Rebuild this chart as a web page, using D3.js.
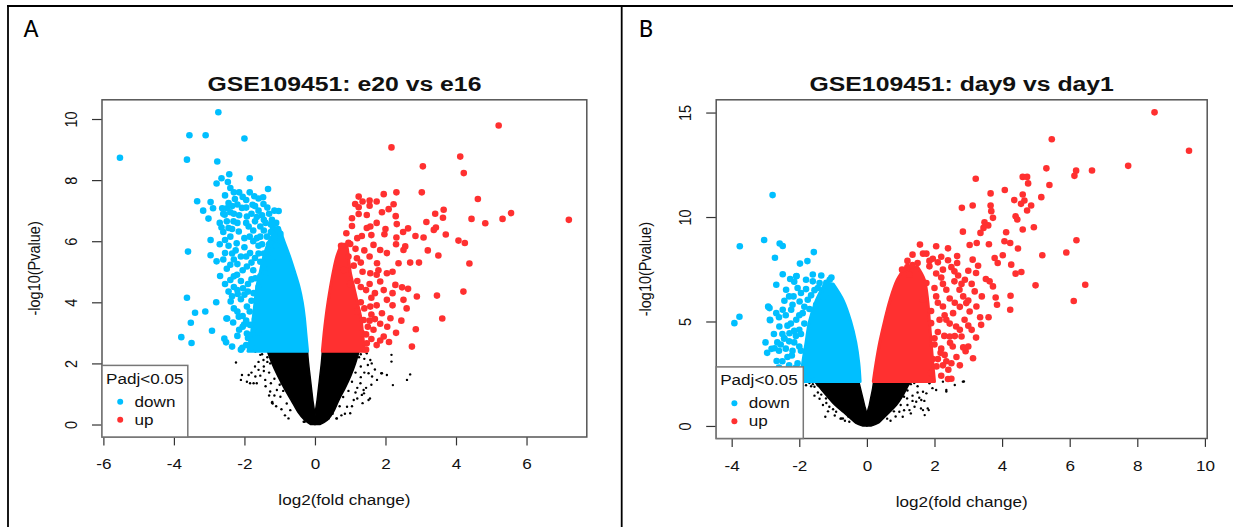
<!DOCTYPE html>
<html>
<head>
<meta charset="utf-8">
<script src="https://cdn.jsdelivr.net/npm/d3@7"></script>
<style>
body { margin: 0; background: #fff; }
svg { display: block; }
</style>
</head>
<body>
<svg id="fig"></svg>
<script>
const W = 1233, H = 527;
const SX = 1.18;   // the R plots were pasted stretched sideways
const FONT = "'Liberation Sans', Arial, Helvetica, sans-serif";
const BLUE = "#00BFFF", RED = "#FF3030";

// ---------- panel A : e20 vs e16 ----------
const aTicksX = [-6, -4, -2, 0, 2, 4, 6];
const aTicksY = [0, 2, 4, 6, 8, 10];

// down-regulated genes [log2FC, -log10 p]
const aDown = [
  [-5.53,8.73],[-2.74,10.22],[-3.56,9.47],[-3.10,9.47],[-2.00,9.36],[-3.63,8.67],[-2.77,8.61],
  [-2.43,8.19],[-2.65,8.06],[-2.79,7.89],[-1.85,8.06],[-2.47,7.94],[-2.40,7.74],[-1.33,7.71],
  [-1.72,7.47],[-3.34,7.31],[-2.96,7.28],[-3.17,7.00],[-2.27,7.38],[-3.02,6.74],[-1.03,6.99],
  [-3.60,5.66],[-2.96,6.04],[-2.96,5.54],[-2.79,5.34],[-2.69,4.86],[-3.63,4.15],[-2.80,4.00],
  [-2.39,4.03],[-2.19,4.27],[-3.40,3.66],[-3.11,3.70],[-3.52,3.33],[-2.51,3.47],[-2.32,3.34],
  [-2.92,3.07],[-3.79,2.86],[-3.50,2.67],[-2.57,2.81],[-2.52,2.69],[-2.06,2.51],[-2.01,3.27],
  [-1.90,2.83],[-1.81,2.53],[-1.47,7.44],[-2.89,7.08],[-2.63,7.08],[-2.50,7.08],[-2.56,6.87],
  [-2.07,7.09],[-1.77,7.19],[-1.46,7.22],[-2.31,6.65],[-1.93,6.81],[-1.65,6.79],[-1.22,6.70],
  [-2.45,6.43],[-2.16,6.32],[-1.88,6.48],[-1.55,6.48],[-1.19,6.43],[-0.98,6.24],[-2.55,6.04],
  [-2.22,5.93],[-1.65,6.10],[-1.36,6.15],[-2.55,5.61],[-2.40,5.23],[-2.10,5.50],[-1.84,5.61],
  [-1.55,5.33],[-1.27,5.72],[-1.04,5.39],[-2.40,4.73],[-2.21,4.90],[-1.93,5.17],[-1.69,4.79],
  [-1.41,4.95],[-2.45,4.35],[-2.04,4.46],[-1.74,4.30],[-1.93,3.86],[-1.65,4.08],[-2.49,3.47],
  [-2.16,3.53],[-1.84,3.26],[-1.93,2.98],[-2.00,6.10],[-1.75,6.00],[-1.50,5.90],[-2.30,6.90],
  [-1.95,7.35],[-2.15,7.60],[-2.35,7.15],[-1.60,7.00],[-1.30,6.90],[-1.10,6.60],[-1.40,6.60],
  [-2.70,6.60],[-2.60,6.30],[-2.35,5.60],[-2.00,5.80],[-1.70,5.45],[-1.45,5.60],[-2.20,5.25],
  [-1.90,4.60],[-1.60,4.50],[-2.30,4.50],[-2.10,4.10],[-1.85,3.70],[-2.30,3.80],[-1.70,3.45],
  [-2.05,3.20],[-1.60,3.00],[-1.80,2.70],[-2.20,2.90],
  [-2.55,7.50],[-2.30,7.60],[-2.05,7.45],[-1.85,7.60],[-1.60,7.40],[-2.45,7.25],[-2.20,7.20],
  [-1.95,7.10],[-1.70,7.15],[-1.35,7.10],[-1.15,7.00],[-2.60,6.90],[-2.40,6.95],[-2.15,6.85],
  [-1.80,6.90],[-1.50,6.85],[-2.50,6.65],[-2.20,6.60],[-1.95,6.60],[-1.70,6.65],[-1.45,6.70],
  [-1.25,6.55],[-2.65,6.45],[-2.35,6.40],[-1.75,6.35],[-1.45,6.35],[-1.25,6.30],[-1.05,6.40],
  [-2.40,6.15],[-1.85,6.15],[-1.55,6.15],[-1.15,6.10],[-2.70,5.90],[-2.45,5.85],[-1.60,5.85],
  [-1.30,5.90],[-1.10,5.85],[-2.25,5.70],[-1.95,5.50],[-1.60,5.60],[-1.35,5.45],[-2.60,5.40],
  [-2.30,5.40],[-1.80,5.30],[-1.45,5.20],[-2.50,5.10],[-2.05,5.05],[-1.75,5.05],[-1.55,4.85],
  [-2.30,4.85],[-2.10,4.70],[-1.80,4.75],[-2.55,4.60],[-2.20,4.40],[-1.90,4.35],[-2.35,4.20],
  [-2.00,4.25],[-1.80,4.05],[-2.20,3.70],[-2.05,3.55],[-1.95,3.40],[-2.15,3.10],[-1.95,2.60],
  [-2.10,2.45],[-2.35,2.55]
];
const aUp = [
  [5.21,9.79],[2.17,9.07],[4.12,8.77],[3.06,8.45],[4.22,8.23],[1.24,7.46],[1.55,7.33],[1.95,7.54],
  [2.31,7.60],[3.03,7.60],[4.62,7.38],[1.14,7.22],[1.24,7.11],[1.55,7.16],[2.09,7.05],[2.23,7.21],
  [1.24,6.89],[1.47,6.86],[2.29,6.82],[3.41,6.90],[3.65,7.03],[3.63,6.77],[4.44,6.73],[4.83,6.59],
  [5.32,6.73],[5.56,6.92],[7.20,6.70],[1.05,6.50],[1.47,6.43],[1.57,6.48],[2.32,6.56],[2.64,6.42],
  [3.16,6.63],[3.37,6.37],[3.43,6.45],[0.89,6.26],[1.33,6.17],[1.97,6.23],[2.31,6.12],[2.85,6.17],
  [3.08,6.12],[3.71,6.22],[4.07,6.02],[4.25,5.94],[0.74,5.85],[1.00,5.91],[1.66,5.88],[1.85,5.71],
  [2.04,5.61],[2.56,5.83],[2.51,5.71],[3.50,5.53],[4.38,5.27],[1.19,5.44],[1.76,5.28],[2.37,5.28],
  [0.81,5.06],[1.57,4.95],[2.04,4.95],[1.85,4.68],[2.28,4.57],[2.47,4.49],[2.64,4.44],[2.89,4.19],
  [3.46,4.22],[4.21,4.35],[2.51,4.08],[2.04,4.08],[1.57,3.86],[1.90,3.64],[2.14,3.48],[3.61,3.47],
  [1.38,3.42],[1.66,3.10],[2.86,3.12],[1.95,2.88],[2.75,2.55],[1.47,2.66],[1.33,2.99],[1.10,5.20],
  [1.35,5.00],[1.40,5.70],[0.95,5.50],[1.20,4.70],[1.45,4.40],[1.70,4.30],[1.30,4.00],[1.60,3.60],
  [1.85,3.30],[1.50,3.20],[1.75,2.60],[2.10,2.70],[2.30,3.00],[1.20,3.70],[2.20,3.90],[1.75,4.90],
  [1.00,4.60],
  [1.45,2.45],[1.60,2.80],[1.55,3.40],[1.40,3.80],[1.75,3.90],[1.60,4.15],[1.30,4.50],[1.55,4.60],
  [1.30,5.30],[1.15,5.75],[1.55,5.50],[1.80,5.05],[1.95,4.40],[1.70,3.45],[1.45,2.95],[2.05,3.20],
  [1.85,2.75],[2.45,3.40],[2.60,3.80],[2.20,4.30],[1.20,6.10],[1.60,6.20],[1.75,6.60],[1.90,6.95],
  [2.00,6.40],[0.95,5.95],[1.05,6.75],[1.35,7.30],[1.75,7.30],[2.50,6.30],[2.70,5.30],[2.30,5.90],
  [2.20,5.00],[3.20,5.70],[2.95,5.30]
];
const aNs = [
  [-2.24,2.03],[-2.07,1.62],[-1.88,1.62],[-1.69,1.57],[-1.93,1.40],[-1.74,1.35],[-1.60,1.79],
  [-1.46,2.11],[-1.55,2.28],[-1.27,2.00],[-1.22,0.71],[-1.08,1.13],[-0.94,1.35],[-0.80,0.69],
  [-0.70,0.47],[-1.69,2.39],[-1.65,1.35],[-1.41,1.46],[-1.27,1.08],[-1.20,0.69],[-0.98,0.91],
  [-0.32,0.09],[0.39,0.20],[0.62,0.20],[0.91,0.58],[1.10,0.80],[1.33,0.97],[1.52,0.80],[1.29,1.35],
  [1.47,2.33],[1.57,2.11],[1.52,1.68],[1.76,1.46],[1.88,1.68],[2.04,1.62],[2.17,2.28],[2.17,2.06],
  [2.21,1.29],[2.61,1.46],[2.70,1.64],[1.61,2.00],[1.38,1.13],[1.00,0.37],[-2.10,1.46],[-1.84,1.35],
  [-1.21,0.74],[1.56,0.85],[1.90,1.68],[1.62,1.57],[1.39,1.02],[0.61,0.20],[-0.29,0.09],
  [-1.35,2.20],[-1.45,1.90],[-1.30,1.70],[-1.15,1.50],[-1.20,2.30],[-1.05,1.80],[-0.90,1.10],
  [-0.85,1.55],[-0.60,0.80],[-0.50,0.50],[1.25,2.20],[1.30,1.90],[1.15,1.70],[1.05,1.40],
  [0.95,1.10],[0.80,0.90],[1.20,1.20],[1.40,1.70],[0.70,0.60],[0.50,0.35],[1.30,2.30],[1.10,2.00],
  [-1.50,2.30],[-1.60,2.05],[-1.55,1.60],[-1.40,1.25],[-1.30,0.95],[-1.10,0.60],[-0.95,0.50],
  [-0.85,0.30],[-1.70,1.90],[-1.80,1.70],[-1.45,1.75],[-1.35,2.05],[-1.25,1.35],[-1.15,0.95],
  [-0.75,0.20],[-1.00,1.30],[1.40,2.15],[1.50,1.95],[1.30,1.55],[1.20,0.85],[1.05,0.60],
  [0.85,0.35],[1.60,1.30],[1.45,1.20],[1.70,1.80],[1.35,0.70],[1.15,1.05],[0.75,0.30]
];
// outlines of the solid blobs where the points overlap completely
const aBlueY = [2.4, 3.0, 3.5, 4.0, 4.5, 5.0, 5.5, 6.0, 6.4];
const aBlueL = [-1.90, -1.80, -1.75, -1.70, -1.65, -1.55, -1.45, -1.30, -1.10];
const aBlueR = [-0.21, -0.26, -0.30, -0.36, -0.45, -0.58, -0.72, -0.88, -1.00];
const aRedY = [2.4, 3.0, 3.5, 4.0, 4.5, 5.0, 5.5, 5.9];
const aRedL = [0.21, 0.26, 0.31, 0.37, 0.44, 0.52, 0.62, 0.75];
const aRedR = [1.40, 1.35, 1.30, 1.20, 1.10, 1.00, 0.95, 0.90];
const aGreyY = [0.0, 0.15, 0.4, 0.8, 1.2, 1.6, 2.0, 2.4];
const aGreyOutL = [-0.12, -0.30, -0.48, -0.68, -0.88, -1.06, -1.22, -1.35];
const aGreyInL = [0, 0, -0.01, -0.06, -0.10, -0.14, -0.18, -0.21];
const aGreyInR = [0, 0, 0.01, 0.06, 0.10, 0.14, 0.18, 0.21];
const aGreyOutR = [0.14, 0.36, 0.52, 0.68, 0.86, 1.02, 1.15, 1.25];

// ---------- panel B : day9 vs day1 ----------
const bTicksX = [-4, -2, 0, 2, 4, 6, 8, 10];
const bTicksY = [0, 5, 10, 15];

const bDown = [
  [-2.79,11.05],[-3.76,8.60],[-3.04,8.90],[-2.58,8.73],[-2.49,8.61],[-1.57,8.32],[-2.72,8.05],
  [-1.98,7.77],[-1.76,7.89],[-2.08,7.18],[-2.49,7.26],[-2.68,6.76],[-1.05,7.10],[-3.92,4.92],
  [-3.77,5.23],[-2.92,5.71],[-2.86,5.06],[-2.67,3.11],[-2.82,3.69],[-2.45,4.18],[-2.30,2.90],
  [-2.22,3.37],[-1.65,2.42],[-2.27,7.03],[-2.09,7.16],[-1.80,7.00],[-2.39,6.52],[-2.17,6.20],
  [-1.95,6.36],[-1.60,6.92],[-1.40,6.84],[-1.26,6.44],[-2.88,5.64],[-2.68,5.40],[-2.49,5.56],
  [-2.24,5.56],[-1.99,5.96],[-1.75,6.04],[-2.44,5.99],[-2.87,5.08],[-2.59,4.76],[-2.29,4.44],
  [-2.09,5.08],[-1.90,5.40],[-2.44,4.20],[-2.73,3.72],[-2.00,4.60],[-1.85,4.90],[-2.15,4.00],
  [-1.95,3.60],[-2.35,3.30],[-2.10,2.80],[-1.90,2.50],[-2.50,2.60],[-1.55,6.50],[-1.30,6.20],
  [-1.70,5.60],[-1.50,5.80],[-2.25,4.90],[-2.00,2.30],[-2.55,3.90],
  [-2.60,5.20],[-2.40,5.30],[-2.35,4.80],[-2.15,4.55],[-2.00,5.30],[-1.85,5.70],[-1.65,6.25],
  [-1.45,6.60],[-1.20,6.85],[-1.10,6.60],[-2.20,5.80],[-2.30,6.20],[-2.05,6.60],[-1.80,6.55],
  [-2.50,4.40],[-2.60,3.60],[-2.40,3.70],[-2.20,3.60],[-2.05,3.00],[-2.25,2.50],[-2.50,3.10],
  [-2.40,2.30],[-2.65,4.00],[-2.75,4.40],[-2.10,4.30],[-2.30,4.05],[-2.00,3.80],[-1.95,4.40],
  [-2.15,2.20],[-1.60,7.25],[-1.35,7.20],[-1.10,7.00],[-1.20,6.40],[-2.80,2.40],[-2.60,2.80],
  [-2.95,3.50],[-3.00,4.00],[-2.15,6.90]
];
const bUp = [
  [8.51,15.01],[5.47,13.72],[9.53,13.17],[7.73,12.45],[5.31,12.33],[6.19,12.22],[6.66,12.23],
  [6.14,11.97],[4.61,11.92],[4.74,11.92],[3.22,11.83],[4.77,11.61],[5.40,11.53],[4.08,11.29],
  [3.66,11.13],[5.16,10.95],[4.36,10.81],[4.61,11.08],[4.66,10.79],[4.56,10.63],[4.86,10.55],
  [2.81,10.44],[3.13,10.55],[3.66,10.55],[3.68,10.28],[3.73,9.96],[4.74,10.31],[4.40,10.04],
  [4.45,9.88],[3.48,9.75],[3.45,9.48],[3.59,9.60],[4.94,9.51],[4.61,9.40],[2.84,9.30],[4.12,9.27],
  [3.36,9.24],[3.04,8.66],[3.25,8.76],[3.61,8.70],[4.07,8.84],[4.24,8.76],[4.47,8.49],[6.20,8.89],
  [5.90,8.30],[5.19,8.17],[2.67,8.13],[3.13,7.96],[3.29,7.67],[3.78,8.04],[4.02,8.17],[3.87,7.80],
  [4.27,7.72],[4.57,7.37],[4.40,7.29],[3.23,7.32],[3.00,7.43],[3.52,7.03],[3.63,6.92],[3.73,6.68],
  [3.81,6.15],[3.85,5.80],[4.25,6.23],[4.24,5.56],[4.99,6.73],[6.46,6.76],[6.12,5.98],[1.57,8.68],
  [1.66,8.25],[1.76,8.25],[2.67,7.80],[2.10,7.83],[2.40,7.93],[1.04,7.48],[1.26,7.24],[1.85,7.64],
  [2.25,7.48],[2.59,7.40],[2.74,6.52],[3.19,6.44],[2.94,5.88],[3.24,5.72],[3.04,5.48],[3.38,4.84],
  [2.80,4.28],[3.23,4.23],[2.35,5.08],[2.89,5.08],[2.64,4.76],[2.45,4.28],[2.15,5.08],[2.05,6.20],
  [2.35,6.52],[2.59,6.92],[1.76,6.84],[1.66,6.04],[2.25,5.72],[1.90,4.92],[2.54,3.80],[2.85,3.76],
  [3.14,3.24],[2.92,3.58],[2.50,2.26],[2.41,2.69],[2.35,3.10],[2.29,4.31],[2.46,3.98],[2.18,3.50],
  [2.06,2.85],[1.89,2.53],[2.00,6.60],[2.20,7.10],[1.90,5.50],[2.10,4.50],[2.00,3.90],[2.30,3.40],
  [1.95,3.20],[2.20,2.40],[2.60,5.90],[2.80,6.80],[2.45,6.10],[1.50,7.80],[1.20,7.90],
  [2.50,7.60],[2.70,7.20],[2.90,7.00],[3.10,6.80],[2.85,6.20],[3.00,6.00],[2.75,5.70],[2.55,5.40],
  [2.45,4.90],[2.75,4.60],[3.00,4.80],[2.60,4.30],[2.65,3.30],[2.50,3.00],[2.75,2.90],[2.25,2.90],
  [2.40,2.25],[2.10,3.20],[2.25,6.80],[2.05,7.30],[1.85,7.90],[2.20,8.10],[2.40,8.50],[2.05,8.60],
  [1.95,8.00],[1.35,8.20],[1.20,7.60],[1.35,7.70],[3.40,6.20],[3.35,5.20],[3.60,5.20],[3.10,4.60],
  [3.00,3.80],[2.10,5.90],[2.30,5.30],[2.00,4.20],[2.20,3.70]
];
const bNs = [
  [-1.23,0.44],[-1.55,1.88],[-1.31,1.72],[-1.21,1.32],[-1.11,0.92],[-0.91,0.68],[-0.71,0.36],
  [-1.90,2.17],[-1.80,2.17],[-1.70,2.17],[-1.60,2.17],[-1.48,2.17],[1.85,2.04],[2.05,1.72],
  [2.25,2.12],[2.35,1.72],[2.60,1.96],[2.84,2.12],[1.66,1.64],[1.76,1.56],[1.46,1.16],[1.41,0.92],
  [1.61,1.24],[1.66,0.76],[1.80,0.84],[1.26,0.76],[1.06,0.44],[0.96,0.68],[-0.52,0.20],[-0.76,0.36],
  [1.83,0.76],[1.71,0.52],[1.60,0.84],[1.19,1.32],[1.94,1.81],[2.35,1.65],[2.87,2.13],[-0.78,0.35],
  [-1.45,1.95],[-1.35,1.50],[-1.20,1.10],[-1.00,0.80],[-1.60,2.00],[1.30,2.00],[1.20,1.70],
  [1.10,1.40],[1.00,1.00],[0.80,0.70],[1.35,1.45],[1.50,1.90],[0.60,0.35],[-0.55,0.45],
  [-1.65,1.90],[-1.70,2.05],[-1.45,1.60],[-1.40,1.30],[-1.30,1.00],[-1.15,0.70],[-0.95,0.50],
  [-0.65,0.25],[-1.55,1.45],[-1.80,1.95],[-1.90,1.60],[1.40,2.05],[1.50,1.60],[1.35,1.20],
  [1.20,1.00],[1.10,0.75],[0.85,0.45],[0.70,0.25],[1.55,1.35],[1.30,0.60],[1.70,1.20]
];
const bBlueY = [2.13, 3.0, 4.0, 5.0, 6.0, 6.8];
const bBlueL = [-1.95, -1.90, -1.80, -1.70, -1.50, -1.25];
const bBlueR = [-0.20, -0.24, -0.33, -0.48, -0.70, -1.00];
const bRedY = [2.13, 3.0, 4.0, 5.0, 6.0, 7.0, 7.6];
const bRedL = [0.19, 0.27, 0.38, 0.52, 0.68, 0.90, 1.15];
const bRedR = [2.00, 1.95, 1.90, 1.85, 1.80, 1.70, 1.50];
const bGreyY = [0.0, 0.12, 0.3, 0.63, 1.0, 1.4, 1.8, 2.13];
const bGreyOutL = [-0.12, -0.32, -0.45, -0.68, -0.95, -1.17, -1.38, -1.55];
const bGreyInL = [0, 0, 0, -0.01, -0.07, -0.13, -0.19, -0.24];
const bGreyInR = [0, 0, 0, 0.01, 0.07, 0.12, 0.17, 0.20];
const bGreyOutR = [0.12, 0.32, 0.45, 0.66, 0.88, 1.05, 1.18, 1.30];

const svg = d3.select("#fig").attr("width", W).attr("height", H);
svg.append("rect").attr("width", W).attr("height", H).attr("fill", "#fff");

// frame of the figure (table borders)
svg.append("line").attr("x1", 7).attr("x2", W).attr("y1", 6).attr("y2", 6)
    .attr("stroke", "#000").attr("stroke-width", 1.8);
svg.append("line").attr("x1", 8).attr("x2", 8).attr("y1", 6).attr("y2", H)
    .attr("stroke", "#000").attr("stroke-width", 1.8);
svg.append("line").attr("x1", 621.7).attr("x2", 621.7).attr("y1", 6).attr("y2", H)
    .attr("stroke", "#000").attr("stroke-width", 1.8);

function stretchText(g, x, y, str, size, bold, rotate)
{
    return g.append("text")
        .attr("transform", `translate(${x},${y}) scale(${SX},1)` + (rotate ? " rotate(-90)" : ""))
        .attr("text-anchor", "middle")
        .attr("dominant-baseline", "central")
        .style("font-family", FONT)
        .style("font-size", size + "px")
        .style("font-weight", bold ? "bold" : "normal")
        .attr("fill", "#111")
        .text(str);
}

function pad4(ext)
{
    const d = (ext[1] - ext[0]) * 0.04;
    return [ext[0] - d, ext[1] + d];
}

function drawPanel(p)
{
    const g = svg.append("g");
    const all = p.down.concat(p.up, p.ns);
    const x = d3.scaleLinear().domain(pad4(d3.extent(all, d => d[0]))).range([p.left, p.right]);
    const y = d3.scaleLinear().domain(pad4([0, d3.max(all, d => d[1])])).range([p.bottom, p.top]);

    // panel letter
    g.append("text")
        .attr("x", p.letterX).attr("y", 37)
        .style("font-family", "Carlito, 'Open Sans', sans-serif")
        .style("font-size", "26px")
        .attr("fill", "#000")
        .text(p.letter);

    const blob = d3.area()
        .y(d => y(d[0]))
        .x0(d => x(d[1]))
        .x1(d => x(d[2]))
        .curve(d3.curveCatmullRom);

    const plot = g.append("g");
    // non-significant genes
    plot.append("path")
        .datum(d3.zip(p.grey.y, p.grey.outL, p.grey.inL))
        .attr("d", blob).attr("fill", "#000").attr("stroke", "#000").attr("stroke-width", 1.5);
    plot.append("path")
        .datum(d3.zip(p.grey.y, p.grey.inR, p.grey.outR))
        .attr("d", blob).attr("fill", "#000").attr("stroke", "#000").attr("stroke-width", 1.5);
    plot.selectAll(".ns").data(p.ns).join("circle")
        .attr("class", "ns")
        .attr("cx", d => x(d[0])).attr("cy", d => y(d[1]))
        .attr("r", 1.2).attr("fill", "#000");

    // significant genes
    plot.append("path")
        .datum(d3.zip(p.blue.y, p.blue.l, p.blue.r))
        .attr("d", blob).attr("fill", BLUE).attr("stroke", BLUE).attr("stroke-width", 3)
        .attr("stroke-linejoin", "round");
    plot.append("path")
        .datum(d3.zip(p.red.y, p.red.l, p.red.r))
        .attr("d", blob).attr("fill", RED).attr("stroke", RED).attr("stroke-width", 3)
        .attr("stroke-linejoin", "round");
    plot.selectAll(".dn").data(p.down).join("circle")
        .attr("class", "dn")
        .attr("cx", d => x(d[0])).attr("cy", d => y(d[1]))
        .attr("r", 3.3).attr("fill", BLUE);
    plot.selectAll(".up").data(p.up).join("circle")
        .attr("class", "up")
        .attr("cx", d => x(d[0])).attr("cy", d => y(d[1]))
        .attr("r", 3.3).attr("fill", RED);

    // axes, R style (plain hyphen for negatives)
    const xa = g.append("g")
        .attr("transform", `translate(0,${p.bottom})`)
        .call(d3.axisBottom(x).tickValues(p.ticksX).tickFormat(d => String(d))
            .tickSize(8.4).tickSizeOuter(0));
    xa.select(".domain").remove();
    xa.selectAll(".tick line").attr("stroke", "#333").attr("stroke-width", 1.2);
    xa.selectAll(".tick text")
        .attr("y", null).attr("dy", null)
        .attr("transform", `translate(0,27) scale(${SX},1)`)
        .attr("dominant-baseline", "central")
        .style("font-family", FONT).style("font-size", "14.5px").attr("fill", "#111");

    const ya = g.append("g")
        .attr("transform", `translate(${p.left},0)`)
        .call(d3.axisLeft(y).tickValues(p.ticksY).tickFormat(d => String(d))
            .tickSize(10).tickSizeOuter(0));
    ya.select(".domain").remove();
    ya.selectAll(".tick line").attr("stroke", "#333").attr("stroke-width", 1.2);
    ya.selectAll(".tick text")
        .attr("x", null).attr("dy", null)
        .attr("text-anchor", "middle")
        .attr("transform", `translate(-30.7,0) scale(${SX},1) rotate(-90)`)
        .attr("dominant-baseline", "central")
        .style("font-family", FONT).style("font-size", "14.5px").attr("fill", "#111");

    g.append("rect")
        .attr("x", p.left).attr("y", p.top)
        .attr("width", p.right - p.left).attr("height", p.bottom - p.top)
        .attr("fill", "none").attr("stroke", "#555").attr("stroke-width", 1.5);

    const cx = (p.left + p.right) / 2;
    stretchText(g, cx, p.top - 16.4, p.title, 21, true, false);
    stretchText(g, cx, p.bottom + 63, "log2(fold change)", 14.5, false, false);
    stretchText(g, p.left - p.ylabOff, (p.top + p.bottom) / 2, "-log10(Pvalue)", 14.5, false, true);

    // legend
    const lg = g.append("g");
    const lt = p.bottom - 71.6;
    lg.append("rect")
        .attr("x", p.left).attr("y", lt)
        .attr("width", p.legendW).attr("height", p.bottom - lt)
        .attr("fill", "#fff").attr("stroke", "#777").attr("stroke-width", 1.5);
    stretchText(lg, p.left + 4, lt + 13.4, "Padj<0.05", 14.5, false, false)
        .attr("text-anchor", "start");
    const items = [["down", BLUE, 36.3], ["up", RED, 54.4]];
    items.forEach(it => {
        lg.append("circle").attr("cx", p.left + 18.2).attr("cy", lt + it[2])
            .attr("r", 3).attr("fill", it[1]);
        stretchText(lg, p.left + 32.6, lt + it[2], it[0], 14.5, false, false)
            .attr("text-anchor", "start");
    });
}

drawPanel({
    letter: "A", letterX: 23.5, title: "GSE109451: e20 vs e16",
    left: 102, right: 586.8, top: 99.8, bottom: 437, ylabOff: 68.4, legendW: 85.8,
    ticksX: aTicksX, ticksY: aTicksY, down: aDown, up: aUp, ns: aNs,
    blue: { y: aBlueY, l: aBlueL, r: aBlueR },
    red: { y: aRedY, l: aRedL, r: aRedR },
    grey: { y: aGreyY, outL: aGreyOutL, inL: aGreyInL, inR: aGreyInR, outR: aGreyOutR }
});

drawPanel({
    letter: "B", letterX: 639, title: "GSE109451: day9 vs day1",
    left: 716.2, right: 1207.2, top: 99.8, bottom: 438.5, ylabOff: 70.8, legendW: 87.1,
    ticksX: bTicksX, ticksY: bTicksY, down: bDown, up: bUp, ns: bNs,
    blue: { y: bBlueY, l: bBlueL, r: bBlueR },
    red: { y: bRedY, l: bRedL, r: bRedR },
    grey: { y: bGreyY, outL: bGreyOutL, inL: bGreyInL, inR: bGreyInR, outR: bGreyOutR }
});
</script>
</body>
</html>
